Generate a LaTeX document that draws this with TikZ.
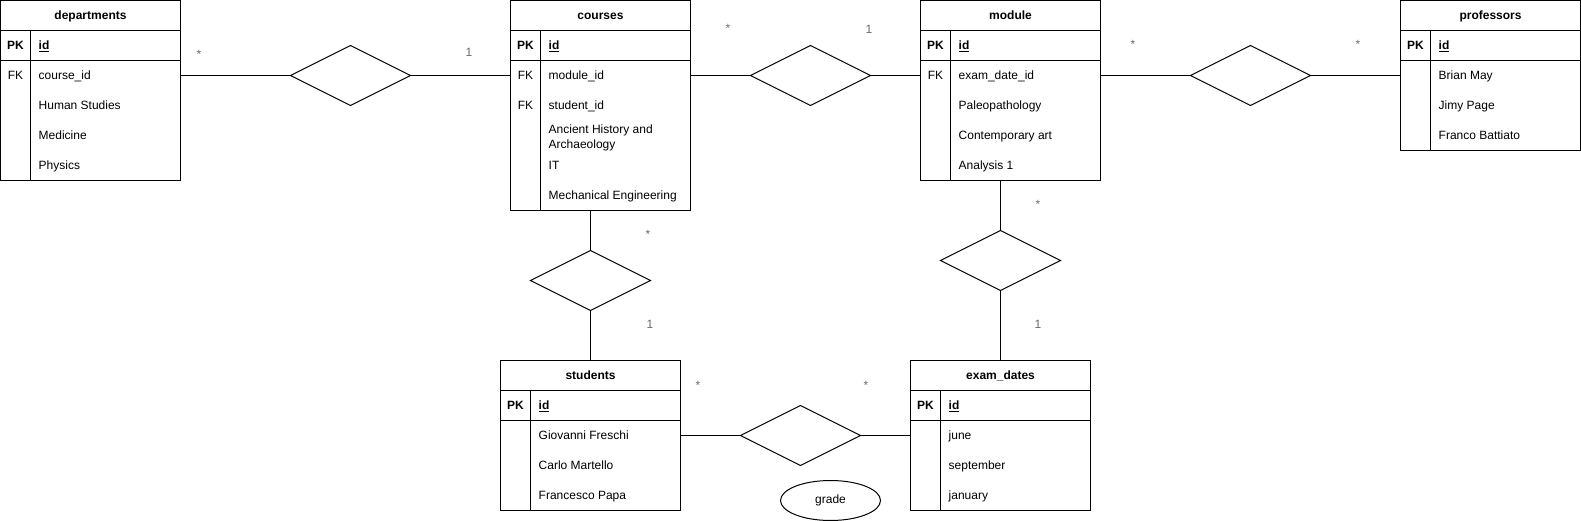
\documentclass[tikz,border=0pt]{standalone}
\usepackage{fontspec}
\setmainfont{Liberation Sans}
\usetikzlibrary{shapes.geometric}
\definecolor{multgray}{gray}{0.42}
\tikzset{
  tblbox/.style={draw, line width=1pt, rectangle, minimum width=180pt, inner sep=0pt, outer sep=0pt},
  tblline/.style={line width=1pt},
  conn/.style={line width=1pt},
  rel/.style={draw, diamond, line width=1pt, minimum width=120pt, minimum height=60pt, inner sep=0pt, outer sep=0pt},
  attr/.style={draw, ellipse, line width=1pt, minimum width=100pt, minimum height=40pt, inner sep=0pt, outer sep=0pt, font=\fontsize{12}{14}\selectfont},
  ttl/.style={anchor=base, inner sep=0pt, font=\fontsize{12}{14}\selectfont\bfseries},
  keyt/.style={anchor=base, inner sep=0pt, font=\fontsize{12}{14}\selectfont},
  fld/.style={anchor=base west, inner sep=0pt, font=\fontsize{12}{14}\selectfont},
  mult/.style={anchor=base, inner sep=0pt, text=multgray, font=\fontsize{12}{14}\selectfont},
}
% #1 name, #2 x0, #3 y0, #4 height, #5 title, #6 rows key/text
\newcommand{\ertbl}[6]{%
  \node[tblbox, minimum height=#4pt] (#1) at (#2+90, #3+#4/2) {};
  \draw[tblline] ([yshift=-30pt]#1.north west) -- ([yshift=-30pt]#1.north east);
  \draw[tblline] ([yshift=-60pt]#1.north west) -- ([yshift=-60pt]#1.north east);
  \draw[tblline] ([xshift=30pt,yshift=-30pt]#1.north west) -- ([xshift=30pt]#1.south west);
  \node[ttl] (#1-t) at ([yshift=-19.3pt]#1.north) {#5};
  \node[keyt, font=\fontsize{12}{14}\selectfont\bfseries] (#1-pk) at ([xshift=15pt,yshift=-49.3pt]#1.north west) {PK};
  \node[fld, font=\fontsize{12}{14}\selectfont\bfseries] (#1-id) at ([xshift=38pt,yshift=-49.3pt]#1.north west) {\underline{id}};
  \foreach \k/\t [count=\i] in {#6} {
    \node[keyt] (#1-k\i) at ([xshift=15pt,yshift={-49.3pt-30pt*\i}]#1.north west) {\k};
    \node[fld] (#1-f\i) at ([xshift=38pt,yshift={-49.3pt-30pt*\i}]#1.north west) {\t};
  }%
}
\begin{document}
\begin{tikzpicture}[x=1pt, y=-1pt]
\useasboundingbox (0,0) rectangle (1581,521);
\fill[white] (0,0) rectangle (1581,521);

% tables
\ertbl{dep}{0.5}{0.5}{180}{departments}{FK/course\_id, {}/Human Studies, {}/Medicine, {}/Physics}
\ertbl{cou}{510.5}{0.5}{210}{courses}{FK/module\_id, FK/student\_id, {}/{}, {}/IT, {}/Mechanical Engineering}
\begin{scope}
  \clip ([xshift=31pt,yshift=-118pt]cou.north west) rectangle ([xshift=-1pt,yshift=-149.6pt]cou.north east);
  \node[fld, align=left, font=\fontsize{12}{15}\selectfont] (cou-anc) at ([xshift=38pt,yshift=-148.3pt]cou.north west) {Ancient History and\\Archaeology};
\end{scope}
\ertbl{mod}{920.5}{0.5}{180}{module}{FK/exam\_date\_id, {}/Paleopathology, {}/Contemporary art, {}/Analysis 1}
\ertbl{prof}{1400.5}{0.5}{150}{professors}{{}/Brian May, {}/Jimy Page, {}/Franco Battiato}
\ertbl{stu}{500.5}{360.5}{150}{students}{{}/Giovanni Freschi, {}/Carlo Martello, {}/Francesco Papa}
\ertbl{ex}{910.5}{360.5}{150}{exam\_dates}{{}/june, {}/september, {}/january}

% relationships
\node[rel] (d1) at (350.5,75.5) {};
\node[rel] (d2) at (810.5,75.5) {};
\node[rel] (d3) at (1250.5,75.5) {};
\node[rel] (d4) at (590.5,280.5) {};
\node[rel] (d5) at (1000.5,260.5) {};
\node[rel] (d6) at (800.5,435.5) {};

% attribute
\node[attr] (grade) at (830.5,500.5) {grade};

% connectors
\draw[conn] (dep.east |- d1.west) -- (d1.west);
\draw[conn] (d1.east) -- (d1.east -| cou.west);
\draw[conn] (cou.east |- d2.west) -- (d2.west);
\draw[conn] (d2.east) -- (d2.east -| mod.west);
\draw[conn] (mod.east |- d3.west) -- (d3.west);
\draw[conn] (d3.east) -- (d3.east -| prof.west);
\draw[conn] (cou.south -| d4.north) -- (d4.north);
\draw[conn] (d4.south) -- (d4.south |- stu.north);
\draw[conn] (mod.south -| d5.north) -- (d5.north);
\draw[conn] (d5.south) -- (d5.south |- ex.north);
\draw[conn] (stu.east |- d6.west) -- (d6.west);
\draw[conn] (d6.east) -- (d6.east -| ex.west);

% multiplicities
\node[mult] (m1) at (199,59) {*};
\node[mult] (m2) at (469,56.3) {1};
\node[mult] (m3) at (728,33) {*};
\node[mult] (m4) at (869,33.3) {1};
\node[mult] (m5) at (1133,49) {*};
\node[mult] (m6) at (1358,49) {*};
\node[mult] (m7) at (648,239) {*};
\node[mult] (m8) at (650,328.3) {1};
\node[mult] (m9) at (1038,209) {*};
\node[mult] (m10) at (1038,328.3) {1};
\node[mult] (m11) at (698,389) {*};
\node[mult] (m12) at (866,389) {*};
\end{tikzpicture}
\end{document}
